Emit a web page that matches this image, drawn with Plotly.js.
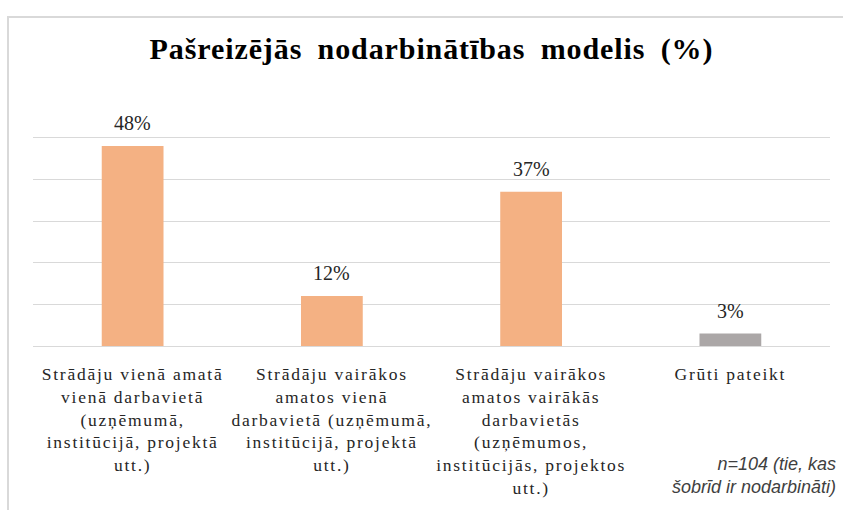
<!DOCTYPE html>
<html>
<head>
<meta charset="utf-8">
<script src="https://cdn.plot.ly/plotly-3.0.1.min.js"></script>
<style>
  html, body { margin: 0; padding: 0; background: #ffffff; }
  #chart { width: 843px; height: 510px; }
  .xtick text { letter-spacing: 1.75px; }
  .gtitle { letter-spacing: 0.9px; word-spacing: 7px; }
</style>
</head>
<body>
<div id="chart"></div>
<script>
const categories = [
  "Strādāju vienā amatā<br>vienā darbavietā<br>(uzņēmumā,<br>institūcijā, projektā<br>utt.)",
  "Strādāju vairākos<br>amatos vienā<br>darbavietā (uzņēmumā,<br>institūcijā, projektā<br>utt.)",
  "Strādāju vairākos<br>amatos vairākās<br>darbavietās<br>(uzņēmumos,<br>institūcijās, projektos<br>utt.)",
  "Grūti pateikt"
];
const values = [48, 12, 37, 3];
const valueLabels = ["48%", "12%", "37%", "3%"];
const barColors = ["#F4B183", "#F4B183", "#F4B183", "#ABA7A7"];
const titleText = "Pašreizējās nodarbinātības modelis (%)";
const noteText = "n=104 (tie, kas<br>šobrīd ir nodarbināti)";

const serif = "Liberation Serif";
const sans = "Liberation Sans";

const trace = {
  type: "bar",
  x: categories,
  y: values,
  marker: { color: barColors, line: { width: 0 } },
  hoverinfo: "skip",
  showlegend: false
};

const valueAnnotations = categories.map((c, i) => ({
  x: c, y: values[i], xref: "x", yref: "y",
  text: valueLabels[i], showarrow: false,
  yanchor: "bottom", yshift: 10,
  font: { family: serif, size: 20, color: "#262626" }
}));

const layout = {
  width: 843, height: 510,
  margin: { l: 33, r: 13, t: 96, b: 164 },
  paper_bgcolor: "#ffffff",
  plot_bgcolor: "#ffffff",
  bargap: 0.69,
  font: { family: serif },
  title: {
    text: "<b>" + titleText + "</b>",
    x: 0.5, xref: "paper", xanchor: "center",
    y: 1 - 48 / 510, yref: "container", yanchor: "middle",
    font: { family: serif, size: 30, color: "#000000" }
  },
  xaxis: {
    type: "category",
    showgrid: false, zeroline: false,
    showline: false,
    ticks: "outside", ticklen: 12, tickcolor: "rgba(0,0,0,0)",
    tickfont: { family: serif, size: 17.5, color: "#262626" },
    fixedrange: true
  },
  yaxis: {
    range: [0, 60], dtick: 10, tick0: 0,
    showgrid: true, gridcolor: "#D9D9D9", gridwidth: 1,
    zeroline: true, zerolinecolor: "#D9D9D9", zerolinewidth: 1,
    showticklabels: false, ticks: "",
    fixedrange: true
  },
  annotations: valueAnnotations.concat([{
    xref: "paper", yref: "paper",
    x: (838 - 33) / 797, y: (346 - 475) / 250,
    xanchor: "right", yanchor: "middle", align: "right",
    text: noteText, showarrow: false,
    font: { family: sans, size: 18, color: "#404040", style: "italic" }
  }]),
  shapes: [{
    type: "rect", xref: "paper", yref: "paper",
    x0: (8 - 33) / 797, x1: (850 - 33) / 797,
    y0: (346 - 520) / 250, y1: (346 - 17) / 250,
    line: { color: "#D9D9D9", width: 2 },
    fillcolor: "rgba(0,0,0,0)",
    layer: "below"
  }]
};

Plotly.newPlot("chart", [trace], layout, { displayModeBar: false, staticPlot: true });
</script>
</body>
</html>
